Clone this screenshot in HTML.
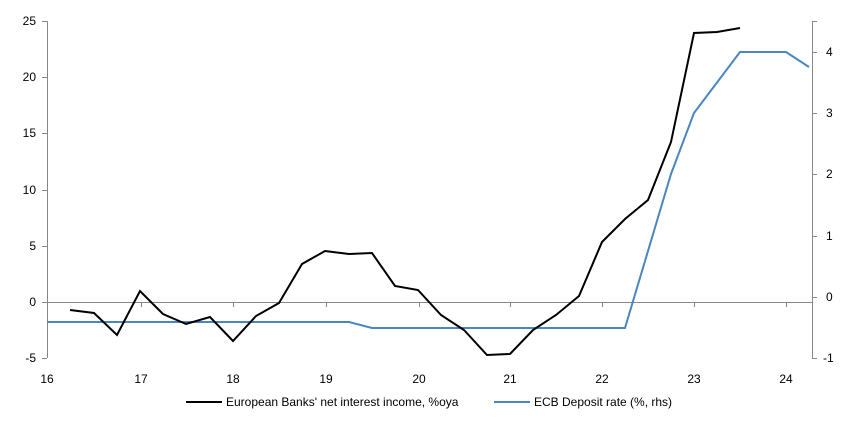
<!DOCTYPE html>
<html><head><style>
body{margin:0;background:#fff;}
text{font-family:"Liberation Sans",Arial,sans-serif;font-size:12px;fill:#000;}
</style></head><body>
<svg width="852" height="427" xmlns="http://www.w3.org/2000/svg">
<g stroke="#888" stroke-width="1" fill="none">
<line x1="47.5" y1="21" x2="47.5" y2="358"/>
<line x1="812.5" y1="21" x2="812.5" y2="358"/>
<line x1="47" y1="302.5" x2="812" y2="302.5"/>
<g>
<line x1="42" y1="21.5" x2="47" y2="21.5"/><line x1="42" y1="77.5" x2="47" y2="77.5"/>
<line x1="42" y1="133.5" x2="47" y2="133.5"/><line x1="42" y1="190.5" x2="47" y2="190.5"/>
<line x1="42" y1="246.5" x2="47" y2="246.5"/><line x1="42" y1="302.5" x2="47" y2="302.5"/>
<line x1="42" y1="358.5" x2="47" y2="358.5"/>
<line x1="812" y1="21.5" x2="817" y2="21.5"/><line x1="812" y1="52.5" x2="817" y2="52.5"/>
<line x1="812" y1="113.5" x2="817" y2="113.5"/><line x1="812" y1="174.5" x2="817" y2="174.5"/>
<line x1="812" y1="236.5" x2="817" y2="236.5"/><line x1="812" y1="297.5" x2="817" y2="297.5"/>
<line x1="812" y1="358.5" x2="817" y2="358.5"/>
<line x1="141.5" y1="302" x2="141.5" y2="307"/><line x1="233.5" y1="302" x2="233.5" y2="307"/>
<line x1="326.5" y1="302" x2="326.5" y2="307"/><line x1="419.5" y1="302" x2="419.5" y2="307"/>
<line x1="510.5" y1="302" x2="510.5" y2="307"/><line x1="602.5" y1="302" x2="602.5" y2="307"/>
<line x1="694.5" y1="302" x2="694.5" y2="307"/><line x1="786.5" y1="302" x2="786.5" y2="307"/>
</g></g>
<g text-anchor="end">
<text x="36" y="25">25</text><text x="36" y="81">20</text><text x="36" y="137">15</text>
<text x="36" y="194">10</text><text x="36" y="250">5</text><text x="36" y="306">0</text><text x="36" y="362">-5</text>
</g>
<g text-anchor="start">
<text x="826" y="56">4</text><text x="826" y="117">3</text><text x="826" y="178">2</text>
<text x="826" y="240">1</text><text x="826" y="301">0</text><text x="823" y="362">-1</text>
</g>
<g text-anchor="middle">
<text x="47" y="383">16</text><text x="141" y="383">17</text><text x="233" y="383">18</text>
<text x="326" y="383">19</text><text x="419" y="383">20</text><text x="510" y="383">21</text>
<text x="602" y="383">22</text><text x="694" y="383">23</text><text x="786" y="383">24</text>
</g>
<polyline fill="none" stroke="#4a86c0" stroke-width="2" points="47,322 349,322 372,328 625,328 671,174 694,113 740,52 786,52 809,67"/>
<polyline fill="none" stroke="#000" stroke-width="2" points="70,310 94,313 117,335 140,291 163,314 186,324 210,317 233,341 256,316 279,303 302,264 325,251 349,254 372,253 395,286 418,290 441,315 464,330 487,355 510,354 533,330 556,315 579,296 602,242 625,219 648,200 671,142 694,33 717,32 740,28"/>
<line x1="186" y1="402" x2="222" y2="402" stroke="#000" stroke-width="2"/>
<text x="226" y="406">European Banks' net interest income, %oya</text>
<line x1="494" y1="402" x2="530" y2="402" stroke="#4a86c0" stroke-width="2"/>
<text x="534" y="406">ECB Deposit rate (%, rhs)</text>
</svg>
</body></html>
